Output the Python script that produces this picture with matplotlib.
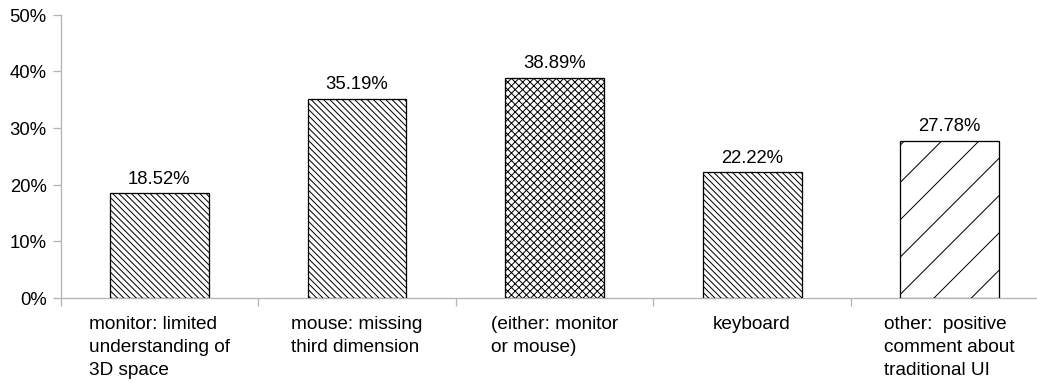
import matplotlib
matplotlib.use("Agg")
import matplotlib.pyplot as plt
from matplotlib.ticker import FixedLocator, PercentFormatter

categories = [
    "monitor: limited\nunderstanding of\n3D space",
    "mouse: missing\nthird dimension",
    "(either: monitor\nor mouse)",
    "keyboard",
    "other:  positive\ncomment about\ntraditional UI",
]
values = [18.52, 35.19, 38.89, 22.22, 27.78]
hatches = ["\\" * 6, "\\" * 6, "x" * 5, "\\" * 6, "/"]
y_ticks = [0, 10, 20, 30, 40, 50]

DPI = 112
W, H = 1037, 383


def px(p):
    """Convert pixels to points at the output resolution."""
    return p * 72.0 / DPI


plt.rcParams["font.family"] = ["Liberation Sans", "DejaVu Sans"]
plt.rcParams["hatch.linewidth"] = px(1.0)
plt.rcParams["hatch.color"] = "black"

fig = plt.figure(figsize=((W + 0.5) / DPI, (H + 0.5) / DPI), dpi=DPI)
fig.patch.set_facecolor("white")

left, right_edge = 60.5, 1048.0
bottom_y, top_y = 298.0, 15.3
ax = fig.add_axes([left / W, (H - bottom_y) / H,
                   (right_edge - left) / W, (bottom_y - top_y) / H])

x = list(range(len(values)))
bars = ax.bar(x, values, width=0.5, color="white", edgecolor="black",
              linewidth=px(1.3), zorder=3)
for b, h in zip(bars, hatches):
    b.set_hatch(h)

fs = px(18.5)
for xi, v in zip(x, values):
    ax.annotate(f"{v:.2f}%", (xi, v), xytext=(0, px(6)),
                textcoords="offset points", ha="center", va="bottom",
                fontsize=fs, color="black")

ax.set_xlim(-0.5, len(values) - 0.5)
ax.set_ylim(0, 50)

axis_gray = "#b4b4b4"
for s in ("top", "right"):
    ax.spines[s].set_visible(False)
for s in ("left", "bottom"):
    ax.spines[s].set_color(axis_gray)
    ax.spines[s].set_linewidth(px(1.3))

ax.yaxis.set_major_locator(FixedLocator(y_ticks))
ax.yaxis.set_major_formatter(PercentFormatter(decimals=0))
ax.tick_params(axis="y", which="major", length=px(8), width=px(1.3),
               color=axis_gray, labelsize=fs, pad=px(6), labelcolor="black")

ax.set_xticks(x)
ax.set_xticklabels(categories, fontsize=px(19), ha="center",
                   multialignment="left", linespacing=1.44)
ax.tick_params(axis="x", which="major", length=0, pad=px(18),
               labelcolor="black")
ax.xaxis.set_minor_locator(FixedLocator([i - 0.5 for i in range(len(values) + 1)]))
ax.tick_params(axis="x", which="minor", length=px(8), width=px(1.3),
               color=axis_gray)

fig.savefig("out.png", dpi=DPI, facecolor="white")
